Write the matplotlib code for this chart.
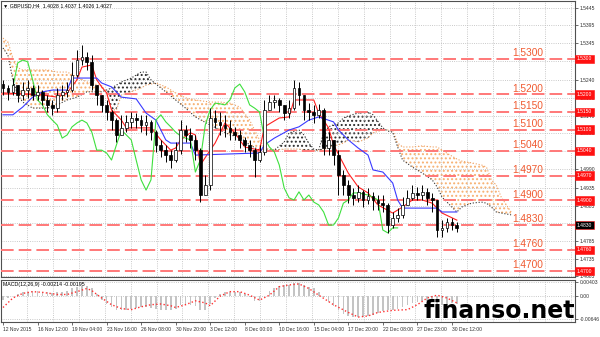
import numpy as np
import matplotlib.pyplot as plt
from matplotlib.ticker import MultipleLocator, FixedLocator
from matplotlib.transforms import blended_transform_factory

plt.rcParams['font.family'] = ['Liberation Sans', 'DejaVu Sans']
plt.rcParams['hatch.linewidth'] = 0.9

# GBPUSD H4 candles (one candle per slot), open = previous close
first_open = 1.5230
closes = [1.5218, 1.5207, 1.5226, 1.5198, 1.5212, 1.5218, 1.5198, 1.5207, 1.5184, 1.5170,
          1.5161, 1.5198, 1.5207, 1.5212, 1.5255, 1.5297, 1.5306, 1.5292, 1.5226, 1.5198,
          1.5170, 1.5150, 1.5127, 1.5085, 1.5105, 1.5122, 1.5133, 1.5127, 1.5113, 1.5122,
          1.5093, 1.5057, 1.5042, 1.5028, 1.5014, 1.5042, 1.5099, 1.5085, 1.5071, 1.5042,
          1.4915, 1.4943, 1.5133, 1.5122, 1.5113, 1.5105, 1.5093, 1.5085, 1.5071, 1.5057,
          1.5042, 1.5014, 1.5037, 1.5156, 1.5178, 1.5184, 1.5170, 1.5147, 1.5161, 1.5218,
          1.5198, 1.5156, 1.5150, 1.5142, 1.5156, 1.5048, 1.5071, 1.5028, 1.4972, 1.4943,
          1.4915, 1.4907, 1.4924, 1.4901, 1.4912, 1.4901, 1.4892, 1.4887, 1.4830, 1.4850,
          1.4859, 1.4887, 1.4907, 1.4921, 1.4915, 1.4924, 1.4907, 1.4901, 1.4816, 1.4822,
          1.4839, 1.4830, 1.4822]
highs = [1.5241, 1.5226, 1.5246, 1.5226, 1.5235, 1.5241, 1.5226, 1.5226, 1.5212, 1.5198,
         1.5184, 1.5218, 1.5226, 1.5235, 1.5292, 1.5325, 1.5340, 1.5320, 1.5311, 1.5226,
         1.5198, 1.5184, 1.5156, 1.5133, 1.5142, 1.5142, 1.5150, 1.5147, 1.5142, 1.5142,
         1.5127, 1.5099, 1.5071, 1.5057, 1.5042, 1.5065, 1.5127, 1.5113, 1.5105, 1.5085,
         1.5048, 1.4972, 1.5161, 1.5156, 1.5150, 1.5142, 1.5127, 1.5108, 1.5099, 1.5079,
         1.5071, 1.5048, 1.5057, 1.5184, 1.5198, 1.5198, 1.5190, 1.5170, 1.5184, 1.5241,
         1.5235, 1.5190, 1.5175, 1.5170, 1.5173, 1.5161, 1.5093, 1.5071, 1.5042, 1.4986,
         1.4958, 1.4935, 1.4943, 1.4929, 1.4935, 1.4924, 1.4915, 1.4915, 1.4892, 1.4867,
         1.4878, 1.4909, 1.4929, 1.4943, 1.4938, 1.4943, 1.4935, 1.4921, 1.4901, 1.4844,
         1.4850, 1.4850, 1.4839]
lows = [1.5198, 1.5184, 1.5198, 1.5178, 1.5184, 1.5190, 1.5184, 1.5184, 1.5170, 1.5150,
        1.5142, 1.5150, 1.5184, 1.5192, 1.5207, 1.5249, 1.5283, 1.5269, 1.5212, 1.5170,
        1.5150, 1.5127, 1.5099, 1.5065, 1.5085, 1.5093, 1.5105, 1.5105, 1.5093, 1.5085,
        1.5071, 1.5037, 1.5023, 1.5009, 1.4992, 1.5009, 1.5030, 1.5065, 1.5048, 1.5014,
        1.4895, 1.4915, 1.4929, 1.5105, 1.5085, 1.5079, 1.5071, 1.5071, 1.5048, 1.5037,
        1.5023, 1.4966, 1.5009, 1.5028, 1.5156, 1.5161, 1.5150, 1.5127, 1.5133, 1.5156,
        1.5170, 1.5127, 1.5127, 1.5119, 1.5133, 1.5028, 1.5028, 1.5000, 1.4915, 1.4915,
        1.4892, 1.4887, 1.4895, 1.4881, 1.4890, 1.4873, 1.4873, 1.4867, 1.4808, 1.4822,
        1.4839, 1.4850, 1.4887, 1.4901, 1.4901, 1.4901, 1.4887, 1.4867, 1.4796, 1.4796,
        1.4810, 1.4816, 1.4810]

# Ichimoku lines (bar index -> price)
tenkan_idx = [0, 8, 11, 13, 15, 16, 18, 19, 20, 21, 22, 24, 25, 30, 32, 34, 35, 36, 38, 39,
              40, 42, 43, 45, 47, 49, 52, 53, 56, 58, 59, 63, 64, 66, 67, 70, 72, 74, 76, 79,
              81, 83, 85, 87, 89, 92]
tenkan = [1.5204, 1.5198, 1.5192, 1.5204, 1.5241, 1.5277, 1.5283, 1.5241, 1.5221, 1.5204,
          1.5156, 1.5127, 1.5105, 1.5105, 1.5071, 1.5042, 1.5048, 1.5071, 1.5091, 1.5085,
          1.5000, 1.5042, 1.5062, 1.5119, 1.5091, 1.5051, 1.5042, 1.5108, 1.5133, 1.5136,
          1.5184, 1.5184, 1.5147, 1.5105, 1.5057, 1.4977, 1.4938, 1.4921, 1.4887, 1.4864,
          1.4881, 1.4901, 1.4901, 1.4892, 1.4864, 1.4844]
kijun_idx = [0, 2, 4, 6, 8, 10, 13, 14, 19, 20, 22, 24, 27, 29, 31, 32, 33, 34, 38, 39,
             52, 53, 55, 58, 60, 62, 64, 67, 68, 70, 72, 74, 75, 77, 79, 80, 81, 88, 89, 92]
kijun = [1.5142, 1.5142, 1.5164, 1.5192, 1.5207, 1.5212, 1.5212, 1.5246, 1.5246, 1.5232,
         1.5221, 1.5192, 1.5187, 1.5147, 1.5127, 1.5099, 1.5071, 1.5062, 1.5062, 1.5028,
         1.5034, 1.5057, 1.5076, 1.5099, 1.5108, 1.5127, 1.5136, 1.5122, 1.5099, 1.5071,
         1.5048, 1.5028, 1.4986, 1.4980, 1.4949, 1.4901, 1.4878, 1.4878, 1.4867, 1.4867]
chikou_start = 2
chikou = [1.5221, 1.5289, 1.5297, 1.5292, 1.5241, 1.5184, 1.5170, 1.5142, 1.5127, 1.5113,
          1.5076, 1.5085, 1.5108, 1.5119, 1.5127, 1.5119, 1.5093, 1.5042, 1.5042, 1.5034,
          1.5014, 1.5057, 1.5099, 1.5085, 1.5071, 1.5014, 1.4958, 1.4929, 1.4958, 1.5127,
          1.5142, 1.5122, 1.5108, 1.5093, 1.5082, 1.5076, 1.5071, 1.4980, 1.5014, 1.5113,
          1.5156, 1.5175, 1.5173, 1.5170, 1.5184, 1.5218, 1.5229, 1.5207, 1.5170, 1.5161,
          1.5150, 1.5076, 1.5051, 1.5037, 1.5000, 1.4935, 1.4907, 1.4901, 1.4924, 1.4901,
          1.4915, 1.4895, 1.4887, 1.4867, 1.4830, 1.4830, 1.4850, 1.4892, 1.4901, 1.4921,
          1.4921, 1.4918, 1.4915, 1.4909, 1.4901, 1.4816, 1.4808, 1.4822, 1.4822]
cloud_idx = [0, 1, 2, 3, 4, 6, 9, 11, 13, 15, 17, 20, 21, 22, 23, 24, 26, 28, 29, 30,
             31, 33, 35, 37, 39, 42, 44, 46, 48, 50, 52, 53, 54, 55, 57, 58, 60, 61, 62, 63,
             64, 65, 66, 68, 69, 70, 72, 74, 75, 77, 78, 79, 80, 81, 83, 85, 87, 88, 89, 91,
             92, 93, 95, 97, 98, 99, 100, 101, 103]
span_a = [1.5359, 1.5348, 1.5303, 1.5275, 1.5269, 1.5269, 1.5269, 1.5263, 1.5263, 1.5249,
          1.5235, 1.5224, 1.5207, 1.5156, 1.5156, 1.5198, 1.5207, 1.5218, 1.5226, 1.5229,
          1.5232, 1.5221, 1.5204, 1.5190, 1.5184, 1.5178, 1.5178, 1.5175, 1.5164, 1.5127,
          1.5071, 1.5048, 1.5045, 1.5042, 1.5045, 1.5045, 1.5045, 1.5042, 1.5042, 1.5040,
          1.5042, 1.5042, 1.5051, 1.5057, 1.5062, 1.5071, 1.5065, 1.5076, 1.5091, 1.5099,
          1.5099, 1.5099, 1.5062, 1.5051, 1.5051, 1.5054, 1.5051, 1.5051, 1.5042, 1.5025,
          1.5017, 1.5011, 1.5006, 1.5000, 1.4994, 1.4958, 1.4943, 1.4909, 1.4867]
span_b = [1.5331, 1.5311, 1.5241, 1.5198, 1.5178, 1.5161, 1.5161, 1.5170, 1.5184, 1.5192,
          1.5207, 1.5207, 1.5212, 1.5218, 1.5226, 1.5235, 1.5246, 1.5263, 1.5263, 1.5241,
          1.5229, 1.5207, 1.5184, 1.5161, 1.5136, 1.5113, 1.5099, 1.5085, 1.5079, 1.5057,
          1.5042, 1.5042, 1.5042, 1.5042, 1.5065, 1.5091, 1.5099, 1.5085, 1.5062, 1.5045,
          1.5042, 1.5091, 1.5108, 1.5119, 1.5133, 1.5139, 1.5147, 1.5150, 1.5142, 1.5105,
          1.5096, 1.5093, 1.5051, 1.5014, 1.4994, 1.4977, 1.4958, 1.4938, 1.4909, 1.4881,
          1.4867, 1.4881, 1.4892, 1.4895, 1.4892, 1.4881, 1.4867, 1.4864, 1.4859]

# MACD(12,26,9)
macd = [-0.0011, -0.0005, 0.0000, 0.0005, 0.0011, 0.0013, 0.0016, 0.0016, 0.0013, 0.0011,
        0.0008, 0.0011, 0.0013, 0.0016, 0.0022, 0.0027, 0.0030, 0.0030, 0.0022, 0.0005,
        -0.0011, -0.0022, -0.0030, -0.0038, -0.0038, -0.0038, -0.0035, -0.0032, -0.0030, -0.0030,
        -0.0032, -0.0035, -0.0038, -0.0038, -0.0040, -0.0035, -0.0024, -0.0024, -0.0024, -0.0027,
        -0.0040, -0.0040, -0.0022, -0.0005, 0.0005, 0.0011, 0.0013, 0.0013, 0.0011, 0.0005,
        -0.0003, -0.0013, -0.0013, 0.0000, 0.0016, 0.0024, 0.0030, 0.0032, 0.0032, 0.0038,
        0.0038, 0.0032, 0.0027, 0.0022, 0.0013, -0.0003, -0.0016, -0.0027, -0.0040, -0.0051,
        -0.0056, -0.0059, -0.0059, -0.0059, -0.0056, -0.0054, -0.0048, -0.0043, -0.0040, -0.0038,
        -0.0035, -0.0030, -0.0024, -0.0019, -0.0016, -0.0013, -0.0013, -0.0013, -0.0022, -0.0024,
        -0.0022, -0.0019, -0.0021]
signal_idx = [0, 2, 4, 6, 8, 11, 13, 15, 17, 18, 20, 22, 24, 26, 28, 30, 32, 34, 35, 37,
              39, 41, 42, 44, 46, 48, 50, 52, 54, 56, 58, 60, 62, 64, 67, 70, 72, 74, 76, 79,
              82, 84, 86, 88, 90, 92]
signal = [-0.0032, -0.0005, 0.0008, 0.0013, 0.0011, 0.0005, 0.0005, 0.0013, 0.0022, 0.0016,
          -0.0005, -0.0024, -0.0035, -0.0038, -0.0030, -0.0024, -0.0022, -0.0027, -0.0032, -0.0024,
          -0.0013, -0.0019, -0.0027, 0.0000, 0.0013, 0.0013, 0.0003, -0.0011, 0.0003, 0.0027,
          0.0032, 0.0035, 0.0022, 0.0003, -0.0024, -0.0046, -0.0059, -0.0056, -0.0046, -0.0040,
          -0.0038, -0.0024, -0.0005, 0.0003, -0.0005, -0.0019]

levels = [1.5300, 1.5200, 1.5150, 1.5100, 1.5040, 1.4970, 1.4900, 1.4830, 1.4760, 1.4700]
last_price = 1.4830
# right-scale labels that stay visible next to the red level boxes
price_ticks = [1.5445, 1.5395, 1.5345, 1.5240, 1.5190, 1.5140, 1.5090,
               1.4990, 1.4935, 1.4885, 1.4785, 1.4735, 1.4685]
# grid rows hidden behind level boxes
hidden_grid = [1.5295, 1.5040, 1.4835]
macd_ticks = [0.00403, 0.0, -0.00646]
macd_tick_labels = ['0.00403', '0.00', '-0.00646']
date_labels = ['12 Nov 2015', '16 Nov 12:00', '19 Nov 04:00', '23 Nov 16:00', '26 Nov 08:00',
               '30 Nov 20:00', '3 Dec 12:00', '8 Dec 00:00', '10 Dec 16:00', '15 Dec 04:00',
               '17 Dec 20:00', '22 Dec 08:00', '27 Dec 23:00', '30 Dec 12:00']
bars_per_label = 7

GRID = '#b8b8b8'
FRAME = '#505050'

fig = plt.figure(figsize=(6.0, 3.37), dpi=100)
ax = fig.add_axes([0.0017, 0.178, 0.957, 0.819])
ax2 = fig.add_axes([0.0017, 0.0445, 0.957, 0.1246])

xlim = (-0.4, 116.0)

# --- cloud ---
ci = np.array(cloud_idx)
sa = np.array(span_a)
sb = np.array(span_b)
ax.fill_between(ci, sa, sb, where=sa >= sb, interpolate=True, facecolor='none',
                edgecolor='#f7b070', hatch='....', lw=0, zorder=1)
ax.fill_between(ci, sa, sb, where=sb > sa, interpolate=True, facecolor='none',
                edgecolor='#2a2a2a', hatch='....', lw=0, zorder=1)
ax.plot(ci, sa, color='#f0a060', ls=':', lw=0.8, zorder=2)
ax.plot(ci, sb, color='#303030', ls=':', lw=0.8, zorder=2)

# --- levels ---
tr = blended_transform_factory(ax.transAxes, ax.transData)
for lev in levels:
    ax.axhline(lev, color='#ff7878', lw=1.4, dashes=(6.5, 2.6), zorder=3)
    ax.text(0.89, lev + 0.0002, f'{lev:.4f}', transform=tr, ha='left', va='bottom',
            fontsize=7.3, color='#f05a30', zorder=6)

# --- candles ---
c = np.array(closes)
o = np.array([first_open] + closes[:-1])
h = np.maximum(np.array(highs), np.maximum(o, c))
l = np.minimum(np.array(lows), np.minimum(o, c))
x = np.arange(len(c))
ax.vlines(x, l, h, color='black', lw=0.7, zorder=5)
up = c >= o
ax.bar(x[up], (c - o)[up], bottom=o[up], width=0.55, color='white',
       edgecolor='black', lw=0.5, zorder=6)
ax.bar(x[~up], (o - c)[~up], bottom=c[~up], width=0.55, color='black',
       edgecolor='black', lw=0.5, zorder=6)

# --- ichimoku lines ---
ax.plot(tenkan_idx, tenkan, color='#ff2020', lw=0.8, zorder=4)
ax.plot(kijun_idx, kijun, color='#3a3aff', lw=0.8, zorder=4)
ax.plot(np.arange(chikou_start, chikou_start + len(chikou)), chikou,
        color='#3ee03e', lw=0.8, zorder=4)

# --- axes styling ---
ax.set_xlim(*xlim)
ax.set_ylim(1.4683, 1.5464)
ax.yaxis.tick_right()
ax.set_yticks(price_ticks)
ax.set_yticklabels([f'{v:.4f}' for v in price_ticks])
ax.yaxis.set_minor_locator(FixedLocator(hidden_grid))
ax.tick_params(axis='y', labelsize=3.6, length=2, width=0.5, pad=1.5, colors='#303030')
ax.tick_params(axis='x', labelbottom=False, length=0)
ax.xaxis.set_minor_locator(MultipleLocator(5.25, offset=4.87))
ax.xaxis.set_major_locator(FixedLocator([]))
ax.tick_params(which='minor', length=0)
ax.grid(which='minor', ls=':', color=GRID, lw=0.6)
ax.grid(which='major', axis='y', ls=':', color=GRID, lw=0.6)
for s in ax.spines.values():
    s.set_color(FRAME)
    s.set_linewidth(0.8)

for lev in levels:
    fc = 'black' if lev == last_price else '#ff1010'
    ax.text(1.003, lev, f'{lev:.4f}', transform=tr, ha='left', va='center',
            fontsize=3.6, color='white', clip_on=False, zorder=10,
            bbox=dict(boxstyle='square,pad=0.35', fc=fc, ec='#ff1010', lw=0.4))

ax.text(0.004, 0.992, '\u25bc GBPUSD,H4  1.4028 1.4037 1.4026 1.4027', transform=ax.transAxes,
        ha='left', va='top', fontsize=3.8, color='black')

# --- MACD panel ---
xm = np.arange(len(macd))
ax2.bar(xm, macd, width=0.35, color='#c4c4c4', zorder=2)
ax2.plot(signal_idx, signal, color='#ff3030', ls=':', lw=1.0, zorder=3)
ax2.set_xlim(*xlim)
ax2.set_ylim(-0.00731, 0.00460)
ax2.yaxis.tick_right()
ax2.set_yticks(macd_ticks)
ax2.set_yticklabels(macd_tick_labels)
ax2.tick_params(axis='y', labelsize=3.6, length=2, width=0.5, pad=1.5, colors='#303030')
ax2.set_xticks(np.arange(len(date_labels)) * bars_per_label)
ax2.set_xticklabels(date_labels, ha='left')
ax2.tick_params(axis='x', labelsize=3.6, length=2, width=0.5, pad=1.5, colors='#303030')
ax2.xaxis.set_minor_locator(MultipleLocator(5.25, offset=4.87))
ax2.tick_params(which='minor', length=0)
ax2.grid(which='minor', axis='x', ls=':', color=GRID, lw=0.6)
ax2.grid(which='major', axis='y', ls=':', color=GRID, lw=0.6)
for s in ax2.spines.values():
    s.set_color(FRAME)
    s.set_linewidth(0.8)
ax2.text(0.004, 0.95, 'MACD(12,26,9) -0.00214 -0.00195', transform=ax2.transAxes,
         ha='left', va='top', fontsize=3.8, color='black')

fig.text(0.958, 0.055, 'finanso.net', ha='right', va='baseline', fontsize=17,
         fontweight='bold', family='DejaVu Sans', color='black', zorder=20)

fig.savefig('out.png', dpi=100, facecolor='white')
